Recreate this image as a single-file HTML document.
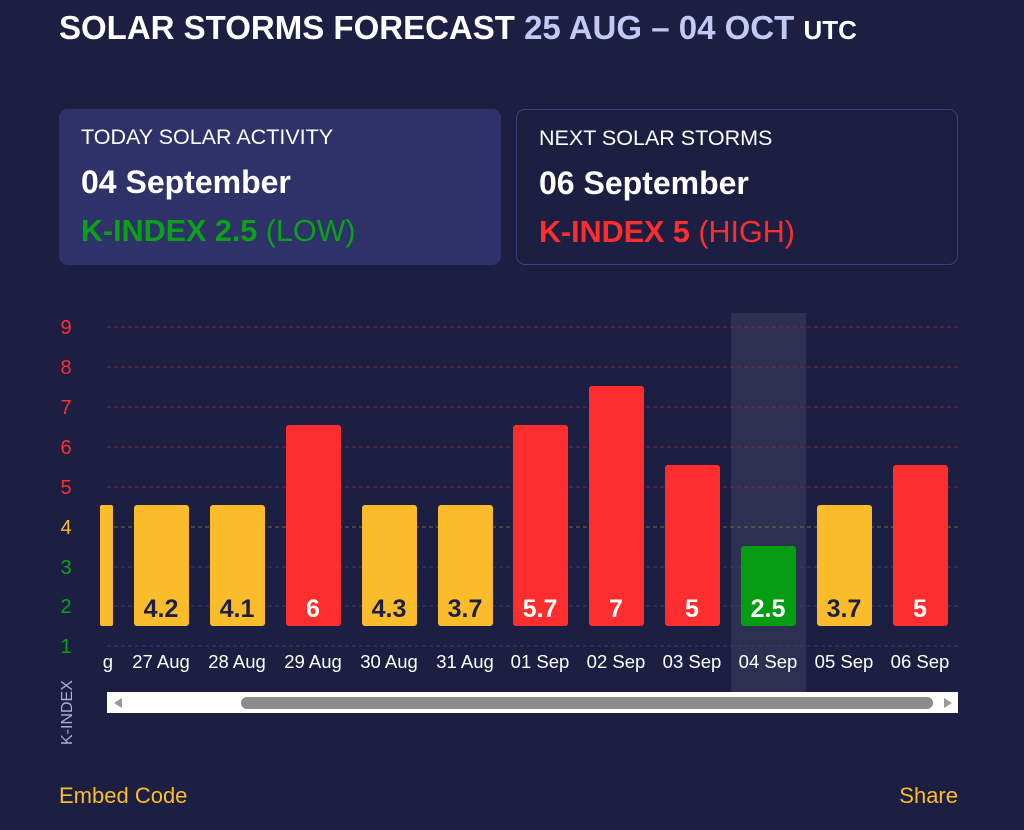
<!DOCTYPE html>
<html><head><meta charset="utf-8"><style>
body{margin:0;width:1024px;height:830px;background:#1c1f42;font-family:"Liberation Sans",sans-serif;color:#fff;position:relative;overflow:hidden}
.t{position:absolute;left:59px;top:9px;font-size:33px;font-weight:bold;white-space:nowrap}
.card{position:absolute;top:109px;width:442px;height:156px;border-radius:9px;box-sizing:border-box;padding:14px 22px}
.c1{left:59px;background:#2e3269}
.c2{left:516px;border:1px solid #3b4080}
.l1{font-size:21.5px;margin-top:2px}
.l2{font-size:32px;font-weight:bold;margin-top:14px}
.l3{font-size:30.5px;margin-top:13px}
.ft{position:absolute;top:783px;font-size:22px;color:#fbbc2c}
</style></head><body>
<div class="t">SOLAR STORMS FORECAST <span style="color:#c3c9f5">25 AUG – 04 OCT</span> <span style="font-size:26px">UTC</span></div>
<div class="card c1"><div class="l1">TODAY SOLAR ACTIVITY</div><div class="l2">04 September</div><div class="l3" style="color:#0aa01a"><b>K-INDEX 2.5</b> (LOW)</div></div>
<div class="card c2"><div class="l1">NEXT SOLAR STORMS</div><div class="l2">06 September</div><div class="l3" style="color:#ff2d2d"><b>K-INDEX 5</b> (HIGH)</div></div>
<svg width="1024" height="830" style="position:absolute;left:0;top:0" font-family="Liberation Sans, sans-serif">
<rect x="731" y="313" width="75" height="380" fill="#2d3050"/>
<g stroke-width="1" stroke-dasharray="4,3">
<line x1="107" x2="958" y1="327" y2="327" stroke="#7a2a40"/>
<line x1="107" x2="958" y1="367" y2="367" stroke="#7a2a40"/>
<line x1="107" x2="958" y1="407" y2="407" stroke="#7a2a40"/>
<line x1="107" x2="958" y1="447" y2="447" stroke="#7a2a40"/>
<line x1="107" x2="958" y1="487" y2="487" stroke="#7a2a40"/>
<line x1="107" x2="958" y1="527" y2="527" stroke="#7a6a40"/>
<line x1="107" x2="958" y1="567" y2="567" stroke="#363c78"/>
<line x1="107" x2="958" y1="606" y2="606" stroke="#363c78"/>
<line x1="107" x2="958" y1="646" y2="646" stroke="#363c78"/>
</g>
<rect x="90" y="640" width="17" height="40" fill="#1c1f42"/>
<g font-size="20" text-anchor="middle">
<text x="66" y="334" fill="#ff2d2d">9</text><text x="66" y="374" fill="#ff2d2d">8</text><text x="66" y="414" fill="#ff2d2d">7</text><text x="66" y="454" fill="#ff2d2d">6</text><text x="66" y="494" fill="#ff2d2d">5</text><text x="66" y="534" fill="#fbbc2c">4</text><text x="66" y="574" fill="#0aa01a">3</text><text x="66" y="613" fill="#0aa01a">2</text><text x="66" y="653" fill="#0aa01a">1</text>
</g>
<text transform="translate(72,745) rotate(-90)" font-size="16" fill="#a9aed8">K-INDEX</text>
<g>
<rect x="100" y="505" width="13" height="121" rx="2" fill="#fbbc2c"/>
<rect x="134" y="505" width="55" height="121" rx="3" fill="#fbbc2c"/>
<rect x="210" y="505" width="55" height="121" rx="3" fill="#fbbc2c"/>
<rect x="286" y="425" width="55" height="201" rx="3" fill="#ff2d2d"/>
<rect x="362" y="505" width="55" height="121" rx="3" fill="#fbbc2c"/>
<rect x="438" y="505" width="55" height="121" rx="3" fill="#fbbc2c"/>
<rect x="513" y="425" width="55" height="201" rx="3" fill="#ff2d2d"/>
<rect x="589" y="386" width="55" height="240" rx="3" fill="#ff2d2d"/>
<rect x="665" y="465" width="55" height="161" rx="3" fill="#ff2d2d"/>
<rect x="741" y="546" width="55" height="80" rx="3" fill="#069c13"/>
<rect x="817" y="505" width="55" height="121" rx="3" fill="#fbbc2c"/>
<rect x="893" y="465" width="55" height="161" rx="3" fill="#ff2d2d"/>
</g>
<g font-size="25" font-weight="bold" text-anchor="middle">
<text x="161" y="617" fill="#1c1f42">4.2</text><text x="237" y="617" fill="#1c1f42">4.1</text><text x="313" y="617" fill="#fff">6</text><text x="389" y="617" fill="#1c1f42">4.3</text><text x="465" y="617" fill="#1c1f42">3.7</text><text x="540" y="617" fill="#fff">5.7</text><text x="616" y="617" fill="#fff">7</text><text x="692" y="617" fill="#fff">5</text><text x="768" y="617" fill="#fff">2.5</text><text x="844" y="617" fill="#1c1f42">3.7</text><text x="920" y="617" fill="#fff">5</text>
</g>
<text x="113" y="668" font-size="18.5" fill="#fff" text-anchor="end">g</text>
<g font-size="18.5" fill="#fff" text-anchor="middle">
<text x="161" y="668">27 Aug</text><text x="237" y="668">28 Aug</text><text x="313" y="668">29 Aug</text><text x="389" y="668">30 Aug</text><text x="465" y="668">31 Aug</text><text x="540" y="668">01 Sep</text><text x="616" y="668">02 Sep</text><text x="692" y="668">03 Sep</text><text x="768" y="668">04 Sep</text><text x="844" y="668">05 Sep</text><text x="920" y="668">06 Sep</text>
</g>
<rect x="0" y="655" width="96" height="20" fill="#1c1f42"/>
<rect x="107" y="692" width="851" height="21" fill="#fff"/>
<rect x="241" y="697" width="692" height="12" rx="6" fill="#8c8c8c"/>
<polygon points="114,703 122,698 122,708" fill="#999"/>
<polygon points="952,703 944,698 944,708" fill="#999"/>
</svg>
<div class="ft" style="left:59px">Embed Code</div>
<div class="ft" style="right:66px">Share</div>
</body></html>
